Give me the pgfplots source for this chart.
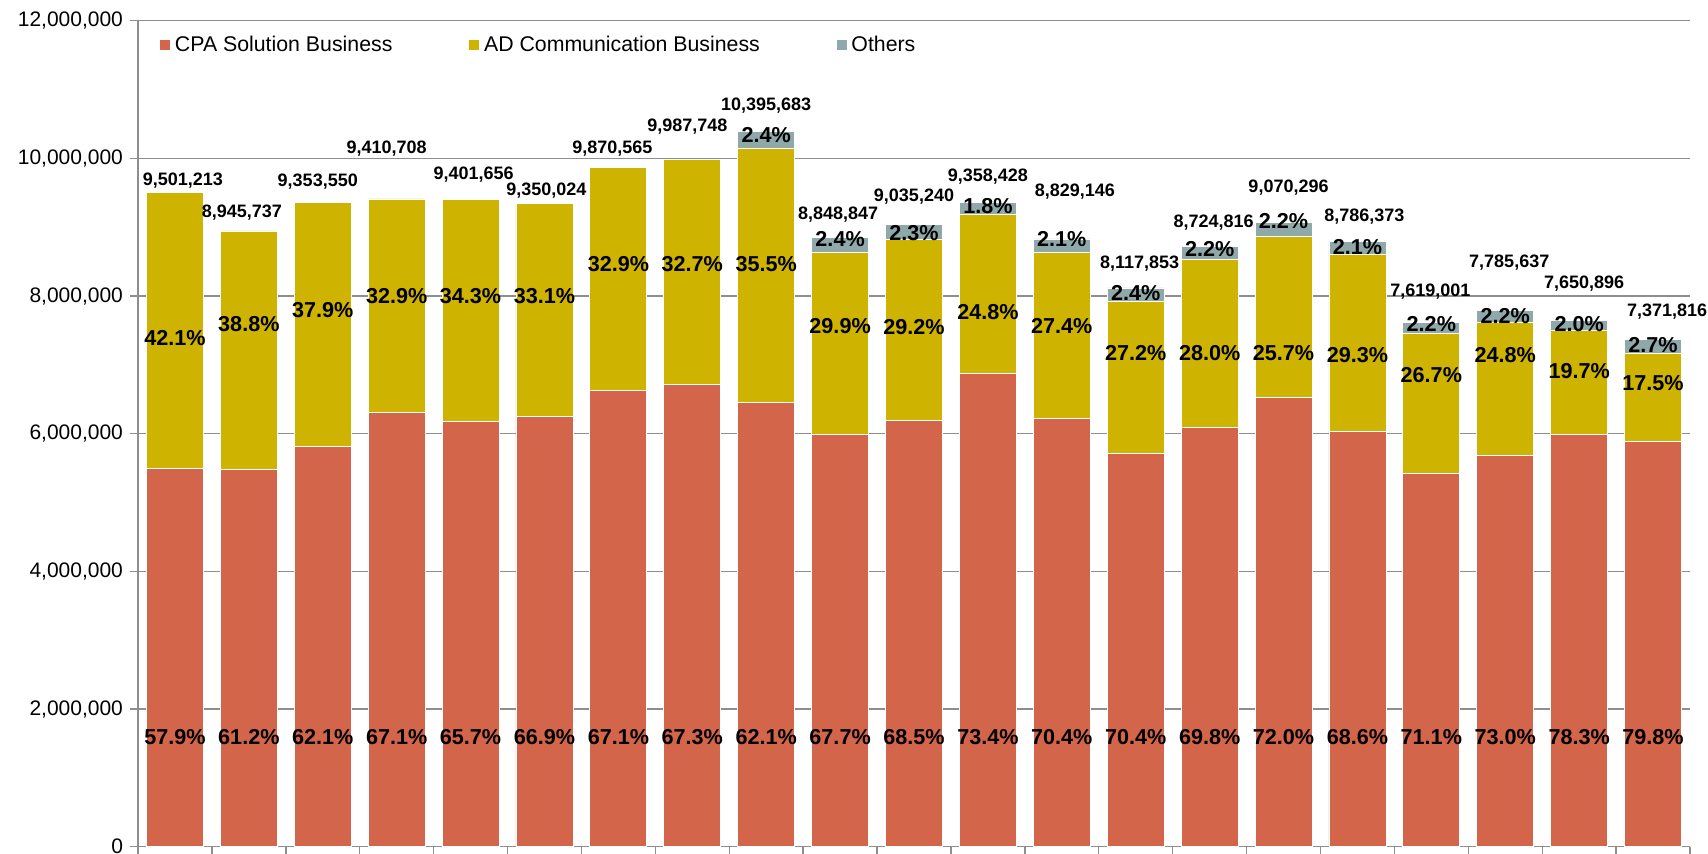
\documentclass[border=0pt]{standalone}
\usepackage{fontspec}
\setmainfont{Liberation Sans}
\usepackage{pgfplots}
\usepackage{pgfplotstable}
\pgfplotsset{compat=1.18}
\definecolor{cpa}{HTML}{D3654A}
\definecolor{adc}{HTML}{CEB400}
\definecolor{oth}{HTML}{8FA9AA}
\definecolor{axgray}{HTML}{8E8E8E}

\pgfplotstableread{
x cpa ad oth
0 5501202 4000011 0
1 5474791 3470946 0
2 5808555 3544995 0
3 6314585 3096123 0
4 6176888 3224768 0
5 6255166 3094858 0
6 6623149 3247416 0
7 6721754 3265994 0
8 6455719 3690467 249497
9 5990669 2645805 212373
10 6189139 2638290 207811
11 6869086 2320890 168452
12 6215719 2419186 194241
13 5714969 2208056 194828
14 6089922 2442948 191946
15 6530613 2331066 208617
16 6027452 2574407 184514
17 5417110 2034273 167618
18 5683515 1930838 171284
19 5990652 1507227 153017
20 5882709 1290068 199039
}\data

% total label: index, y, xshift(pt), text
\newcommand\totlab[4]{\node[tot,xshift=#3pt] at (axis cs:#1,#2) {#4};}
% percentage label: index, y, text
\newcommand\pctlab[3]{\node[pct] at (axis cs:#1,#2) {#3\%};}

\pgfplotsset{frame/.style={
  scale only axis, width=776pt, height=413pt,
  xmin=-0.5, xmax=20.5, ymin=0, ymax=12000000,
  enlarge x limits=false, enlarge y limits=false}}

\begin{document}
\begin{tikzpicture}[
  tot/.style={font=\fontsize{9}{10}\selectfont\bfseries, text height=6.45pt, text depth=0pt, inner sep=0pt},
  pct/.style={font=\fontsize{10.8}{12}\selectfont\bfseries, text height=7.73pt, text depth=0pt, inner sep=0pt}]
\begin{axis}[
  frame, name=ax, set layers,
  ybar stacked, bar width=28.5pt,
  axis lines*=left,
  axis line style={draw=axgray, line width=0.8pt},
  ymajorgrids, grid style={draw=axgray, line width=0.7pt},
  ytick={0,2000000,4000000,6000000,8000000,10000000,12000000},
  scaled y ticks=false,
  yticklabel style={font=\fontsize{10.5}{12}\selectfont, /pgf/number format/.cd, fixed, precision=0, 1000 sep={,}, assume math mode=true},
  xtick={-0.5,0.5,...,20.5}, xticklabels={},
  tick align=outside, major tick length=4pt,
  tick style={draw=axgray, line width=0.7pt},
  legend style={at={(axis description cs:0,1)}, anchor=north west, xshift=10.5pt, yshift=-5.5pt,
    draw=none, fill=none, inner sep=0pt, font=\fontsize{10.65}{12}\selectfont,
    /tikz/every even column/.append style={column sep=36pt}},
  legend columns=3,
  legend image code/.code={\fill[#1] (0pt,-2.7pt) rectangle (5.4pt,2.7pt);},
]
\addplot[fill=cpa, draw=white, line width=0.4pt] table[x=x,y=cpa] {\data};
\addlegendentry{CPA Solution Business}
\addplot[fill=adc, draw=white, line width=0.4pt] table[x=x,y=ad] {\data};
\addlegendentry{AD Communication Business}
\addplot[fill=oth, draw=white, line width=0.4pt] table[x=x,y=oth] {\data};
\addlegendentry{Others}
\end{axis}

\begin{axis}[frame, hide axis, clip=false]
\totlab{0}{9700000}{4}{9,501,213}
\totlab{1}{9230000}{-3.5}{8,945,737}
\totlab{2}{9680000}{-2.5}{9,353,550}
\totlab{3}{10170000}{-5}{9,410,708}
\totlab{4}{9780000}{1.5}{9,401,656}
\totlab{5}{9550000}{1}{9,350,024}
\totlab{6}{10170000}{-3}{9,870,565}
\totlab{7}{10490000}{-2.5}{9,987,748}
\totlab{8}{10790000}{0}{10,395,683}
\totlab{9}{9210000}{-1}{8,848,847}
\totlab{10}{9470000}{0}{9,035,240}
\totlab{11}{9760000}{0}{9,358,428}
\totlab{12}{9540000}{6.5}{8,829,146}
\totlab{13}{8500000}{2}{8,117,853}
\totlab{14}{9090000}{2}{8,724,816}
\totlab{15}{9600000}{2.5}{9,070,296}
\totlab{16}{9170000}{3.5}{8,786,373}
\totlab{17}{8090000}{-0.5}{7,619,001}
\totlab{18}{8510000}{2}{7,785,637}
\totlab{19}{8200000}{2.5}{7,650,896}
\totlab{20}{7800000}{7}{7,371,816}

\pctlab{0}{7390000}{42.1}
\pctlab{1}{7600000}{38.8}
\pctlab{2}{7800000}{37.9}
\pctlab{3}{8010000}{32.9}
\pctlab{4}{8010000}{34.3}
\pctlab{5}{8010000}{33.1}
\pctlab{6}{8470000}{32.9}
\pctlab{7}{8470000}{32.7}
\pctlab{8}{8470000}{35.5}
\pctlab{9}{7570000}{29.9}
\pctlab{10}{7550000}{29.2}
\pctlab{11}{7770000}{24.8}
\pctlab{12}{7570000}{27.4}
\pctlab{13}{7180000}{27.2}
\pctlab{14}{7180000}{28.0}
\pctlab{15}{7180000}{25.7}
\pctlab{16}{7150000}{29.3}
\pctlab{17}{6850000}{26.7}
\pctlab{18}{7140000}{24.8}
\pctlab{19}{6920000}{19.7}
\pctlab{20}{6740000}{17.5}

\pctlab{8}{10340000}{2.4}
\pctlab{9}{8830000}{2.4}
\pctlab{10}{8920000}{2.3}
\pctlab{11}{9310000}{1.8}
\pctlab{12}{8830000}{2.1}
\pctlab{13}{8050000}{2.4}
\pctlab{14}{8690000}{2.2}
\pctlab{15}{9100000}{2.2}
\pctlab{16}{8720000}{2.1}
\pctlab{17}{7600000}{2.2}
\pctlab{18}{7720000}{2.2}
\pctlab{19}{7600000}{2.0}
\pctlab{20}{7290000}{2.7}

\pctlab{0}{1590000}{57.9}
\pctlab{1}{1590000}{61.2}
\pctlab{2}{1590000}{62.1}
\pctlab{3}{1590000}{67.1}
\pctlab{4}{1590000}{65.7}
\pctlab{5}{1590000}{66.9}
\pctlab{6}{1590000}{67.1}
\pctlab{7}{1590000}{67.3}
\pctlab{8}{1590000}{62.1}
\pctlab{9}{1590000}{67.7}
\pctlab{10}{1590000}{68.5}
\pctlab{11}{1590000}{73.4}
\pctlab{12}{1590000}{70.4}
\pctlab{13}{1590000}{70.4}
\pctlab{14}{1590000}{69.8}
\pctlab{15}{1590000}{72.0}
\pctlab{16}{1590000}{68.6}
\pctlab{17}{1590000}{71.1}
\pctlab{18}{1590000}{73.0}
\pctlab{19}{1590000}{78.3}
\pctlab{20}{1590000}{79.8}
\end{axis}
\pgfresetboundingbox
\path[use as bounding box] ([xshift=-69pt,yshift=-3.65pt]ax.south west) rectangle ([xshift=9pt,yshift=10.35pt]ax.north east);
\end{tikzpicture}
\end{document}
